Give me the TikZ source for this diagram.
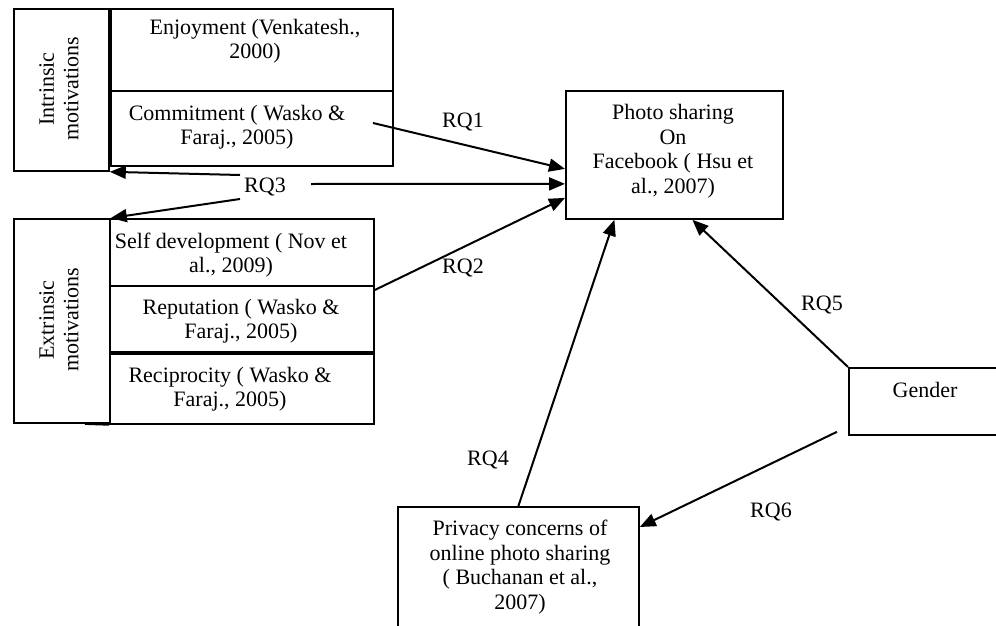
\documentclass[tikz,border=0pt]{standalone}
\usepackage{fontspec}
\setmainfont{Liberation Serif}
\usetikzlibrary{arrows.meta}
\begin{document}
\begin{tikzpicture}[x=1pt,y=-1pt,
  box/.style={draw,line width=1.8pt,inner sep=0pt,anchor=north west},
  txt/.style={font=\fontsize{22}{24.5}\selectfont,align=center,inner sep=0pt},
  arr/.style={line width=2pt,-{Triangle[length=16pt,width=13pt]}},
  ln/.style={line width=1.8pt}]
\useasboundingbox (0,0) rectangle (996,626);
% boxes
\node[box,minimum width=95pt,minimum height=162pt] (intr) at (13,8) {};
\node[box,minimum width=282pt,minimum height=82pt] (enjoy) at (110,8) {};
\node[box,minimum width=282pt,minimum height=75pt] (commit) at (110,90) {};
\node[box,minimum width=96pt,minimum height=204pt] (extr) at (13,218) {};
\node[box,minimum width=264pt,minimum height=67pt] (selfdev) at (109,218) {};
\node[box,minimum width=264pt,minimum height=66pt] (repu) at (109,285) {};
\node[box,minimum width=264pt,minimum height=70pt] (recip) at (109,353) {};
\node[box,minimum width=217pt,minimum height=128pt] (photo) at (565,90) {};
\node[box,minimum width=154pt,minimum height=67pt] (gender) at (848,367) {};
\node[box,minimum width=241pt,minimum height=130pt] (privacy) at (397,506) {};
\draw[ln] (85,424) -- (recip.south west);
% texts
\node[txt,rotate=90] (tintr) at (59,89) {Intrinsic\\motivations};
\node[txt,rotate=90] (textr) at (59,320) {Extrinsic\\motivations};
\node[txt] (tenjoy) at (255,41) {Enjoyment (Venkatesh.,\\2000)};
\node[txt] (tcommit) at (237,127) {Commitment ( Wasko \&\\Faraj., 2005)};
\node[txt] (tself) at (231,255) {Self development ( Nov et\\al., 2009)};
\node[txt] (trepu) at (241,321) {Reputation ( Wasko \&\\Faraj., 2005)};
\node[txt] (trecip) at (230,389) {Reciprocity ( Wasko \&\\Faraj., 2005)};
\node[txt] (tphoto) at (673,151) {Photo sharing\\On\\Facebook ( Hsu et\\al., 2007)};
\node[txt] (tgender) at (925,390) {Gender};
\node[txt] (tprivacy) at (520,567) {Privacy concerns of\\online photo sharing\\( Buchanan et al.,\\2007)};
% labels
\node[txt] (rq1) at (463,122) {RQ1};
\node[txt] (rq2) at (463,268) {RQ2};
\node[txt] (rq3) at (265,187) {RQ3};
\node[txt] (rq4) at (488,460) {RQ4};
\node[txt] (rq5) at (822,305) {RQ5};
\node[txt] (rq6) at (771,512) {RQ6};
% connectors
\coordinate (c1) at (373,123);
\coordinate (r3a) at (240,175);
\coordinate (r3b) at (240,199);
\coordinate (r3c) at (311,184);
\draw[arr] (c1) -- ([yshift=-14pt]photo.west);
\draw[arr] (r3c) -- ([yshift=-29pt]photo.west);
\draw[arr] ([yshift=-5pt]repu.north east) -- ([yshift=-43pt]photo.west);
\draw[arr] (r3a) -- (intr.south east);
\draw[arr] (r3b) -- (extr.north east);
\draw[arr] (privacy.north) -- ([xshift=-60pt]photo.south);
\draw[arr] (gender.north west) -- ([xshift=18pt]photo.south);
\draw[arr] ([xshift=-11pt,yshift=4pt]gender.south west) -- ([yshift=-21pt]privacy.north east);
\end{tikzpicture}
\end{document}
